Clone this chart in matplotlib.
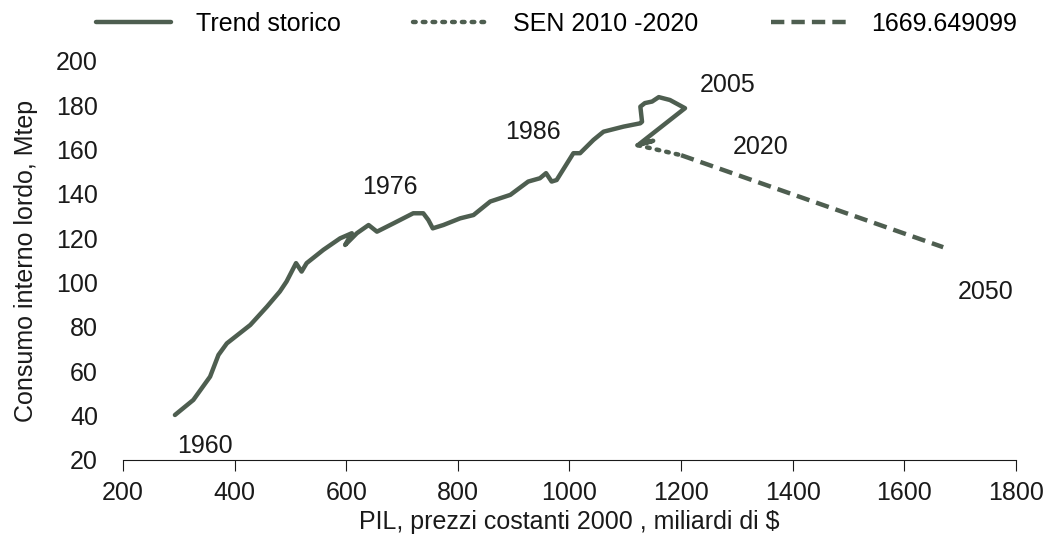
import matplotlib.pyplot as plt

plt.rcParams['font.family'] = ['Liberation Sans', 'DejaVu Sans']

# PIL (miliardi di $) e consumo interno lordo (Mtep)
pil_storico = [293, 326, 356, 371, 386, 428, 458, 481, 493, 510, 520, 529, 559, 589, 610,
               598, 619, 640, 655, 685, 720, 738, 747, 755, 774, 804, 828, 858, 894, 926,
               947, 958, 968, 977, 1007, 1019, 1043, 1061, 1097, 1127, 1130, 1127, 1135,
               1148, 1160, 1180, 1207, 1125, 1150, 1122]
cons_storico = [40.3, 47.1, 57.6, 67.4, 72.6, 80.9, 89.2, 96.0, 100.5, 108.8, 105.0, 108.8,
                114.8, 120.0, 122.3, 117.0, 122.3, 126.0, 123.0, 126.8, 131.3, 131.3, 128.3,
                124.5, 126.0, 129.0, 130.5, 136.6, 139.6, 145.6, 147.1, 149.4, 145.6, 146.3,
                158.4, 158.4, 164.4, 168.1, 170.4, 171.9, 172.6, 179.4, 181.0, 181.7, 183.7,
                182.4, 178.7, 162.5, 164.0, 162.0]

pil_sen = [1122, 1200]
cons_sen = [162.0, 157.5]

pil_2050 = [1200, 1669.649099]
cons_2050 = [157.5, 116.0]

etichette = ['1960', '1976', '1986', '2005', '2020', '2050']
etichette_x = [347, 678, 935, 1284, 1342, 1745]
etichette_y = [26.3, 143, 168, 189, 161, 96]

colore = '#4e5e50'
testo = '#1a1a1a'
fs = 18

fig = plt.figure(figsize=(10.48, 5.34), dpi=100)
ax = fig.add_axes([0.1174, 0.1386, 0.852, 0.7472])

ax.plot(pil_storico, cons_storico, color=colore, lw=3.2, solid_joinstyle='round',
        solid_capstyle='round', label='Trend storico')
ax.plot(pil_sen, cons_sen, color=colore, lw=3.2, linestyle=(0, (0.6, 1.6)),
        dash_capstyle='round', label='SEN 2010 -2020')
ax.plot(pil_2050, cons_2050, color=colore, lw=3.2, linestyle=(0, (3, 1.6)),
        label='1669.649099')

for t, x, y in zip(etichette, etichette_x, etichette_y):
    ax.text(x, y, t, fontsize=fs, ha='center', va='center', color=testo)

ax.set_xlim(200, 1800)
ax.set_ylim(20, 200)
ax.set_xticks(range(200, 1801, 200))
ax.set_yticks(range(20, 201, 20))

for s in ['top', 'right', 'left']:
    ax.spines[s].set_visible(False)
ax.spines['bottom'].set_color(testo)
ax.tick_params(axis='x', length=8, color=testo, labelsize=fs, labelcolor=testo, pad=7)
ax.tick_params(axis='y', length=0, labelsize=fs, labelcolor=testo, pad=18)

ax.set_xlabel('PIL, prezzi costanti 2000 , miliardi di $', fontsize=fs, color=testo,
              labelpad=4)
ax.set_ylabel('Consumo interno lordo, Mtep', fontsize=fs, color=testo, labelpad=13)

fig.legend(loc='upper center', bbox_to_anchor=(0.531, 1.02), ncol=3, frameon=False,
           fontsize=fs, handlelength=3, columnspacing=2.9, handletextpad=1.0)

fig.savefig('out.png', dpi=100)
